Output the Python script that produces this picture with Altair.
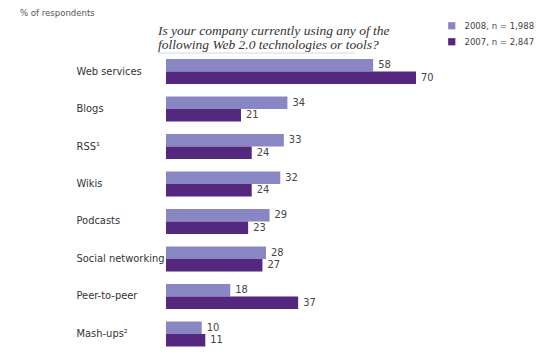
import altair as alt
import pandas as pd

categories = ["Web services", "Blogs", "RSS¹", "Wikis", "Podcasts",
              "Social networking", "Peer-to-peer", "Mash-ups²"]
series = ["2008, n = 1,988", "2007, n = 2,847"]
values_2008 = [58, 34, 33, 32, 29, 28, 18, 10]
values_2007 = [70, 21, 24, 24, 23, 27, 37, 11]
colors = ["#8987c3", "#54287f"]

rows = []
for c, a, b in zip(categories, values_2008, values_2007):
    rows.append({"cat": c, "series": series[0], "value": a})
    rows.append({"cat": c, "series": series[1], "value": b})
df = pd.DataFrame(rows)

FONT = "DejaVu Sans Condensed, Roboto, sans-serif"

base = alt.Chart(df)
y = alt.Y("cat:N", sort=categories, title=None,
          scale=alt.Scale(paddingInner=0.3333, paddingOuter=0),
          axis=alt.Axis(domain=False, ticks=False, labelAlign="left",
                        labelPadding=90, labelFont=FONT, labelFontSize=11,
                        labelFontWeight="normal", labelLimit=200,
                        labelColor="#333"))
yoff = alt.YOffset("series:N", sort=series, scale=alt.Scale(paddingInner=0, paddingOuter=0))
x = alt.X("value:Q", title=None, scale=alt.Scale(domain=[0, 70], nice=False),
          axis=None)

bars = base.mark_bar(size=12.5).encode(
    x=x, y=y, yOffset=yoff,
    color=alt.Color("series:N", sort=series,
                    scale=alt.Scale(domain=series, range=colors),
                    legend=alt.Legend(title=None, orient="none", legendX=281, legendY=-38,
                                      symbolType="square", symbolSize=52,
                                      symbolStrokeWidth=0, labelOffset=8,
                                      labelFont=FONT, labelFontSize=9.5,
                                      labelColor="#444", rowPadding=5)),
)
labels = base.mark_text(align="left", baseline="middle", dx=5, font=FONT,
                        fontSize=11, color="#444").encode(
    x=x, y=y, yOffset=yoff, text="value:Q")

ann = pd.DataFrame({"t": [0]})
title1 = alt.Chart(ann).mark_text(align="left", baseline="middle",
                                  font="Liberation Serif", fontStyle="italic",
                                  fontSize=13.5, color="#333").encode(
    x=alt.value(-8), y=alt.value(-28),
    text=alt.value("Is your company currently using any of the"))
title2 = alt.Chart(ann).mark_text(align="left", baseline="middle",
                                  font="Liberation Serif", fontStyle="italic",
                                  fontSize=13.5, color="#333").encode(
    x=alt.value(-8), y=alt.value(-14),
    text=alt.value("following Web 2.0 technologies or tools?"))
resp = alt.Chart(ann).mark_text(align="left", baseline="middle", font=FONT,
                                fontSize=9.5, color="#555").encode(
    x=alt.value(-146), y=alt.value(-46), text=alt.value("% of respondents"))
rule = alt.Chart(ann).mark_rule(color="#d4d4ea", strokeWidth=1).encode(
    x=alt.value(-9), x2=alt.value(189), y=alt.value(-6))

chart = alt.layer(bars, labels, title1, title2, resp, rule).properties(
    width=250, height=287.5,
    padding={"left": 158, "top": 51, "right": 126, "bottom": 4},
    autosize=alt.AutoSizeParams(type="none"),
    background="white",
).configure_view(stroke=None)

chart.save("out.html", embed_options={"renderer": "svg", "actions": False})
